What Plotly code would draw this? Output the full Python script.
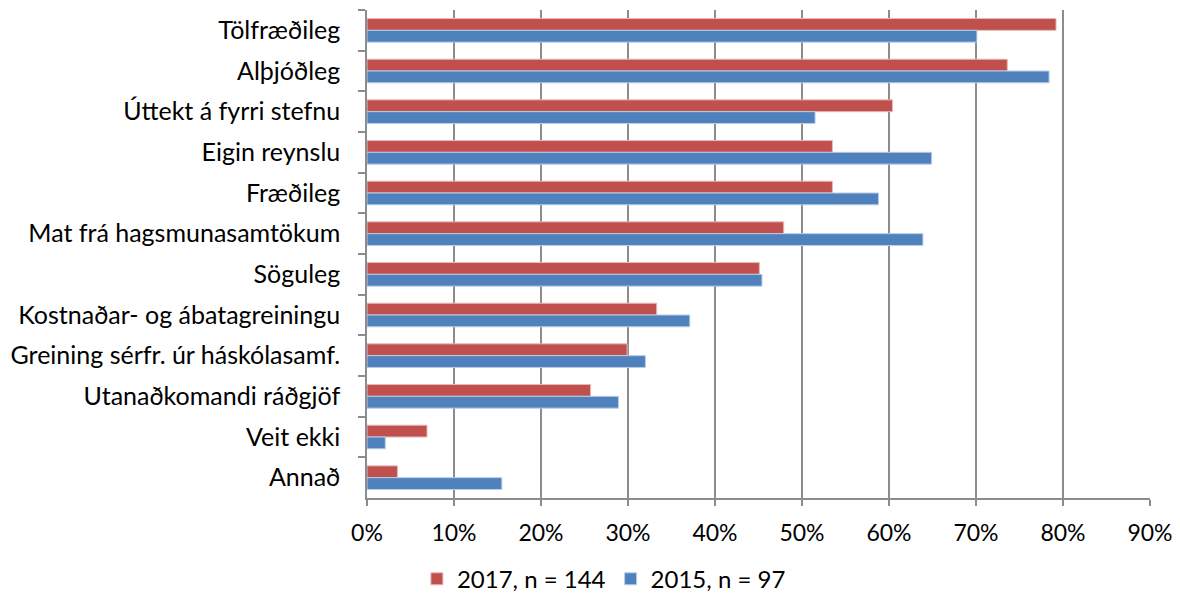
import plotly.graph_objects as go

categories = ["Tölfræðileg", "Alþjóðleg", "Úttekt á fyrri stefnu", "Eigin reynslu",
              "Fræðileg", "Mat frá hagsmunasamtökum", "Söguleg",
              "Kostnaðar- og ábatagreiningu", "Greining sérfr. úr háskólasamf.",
              "Utanaðkomandi ráðgjöf", "Veit ekki", "Annað"]
values_2017 = [0.792, 0.736, 0.604, 0.535, 0.535, 0.479, 0.451, 0.333, 0.299, 0.257, 0.069, 0.035]
values_2015 = [0.701, 0.784, 0.515, 0.649, 0.588, 0.639, 0.454, 0.371, 0.320, 0.289, 0.021, 0.155]
xtick_vals = [0, 0.1, 0.2, 0.3, 0.4, 0.5, 0.6, 0.7, 0.8, 0.9]
xtick_text = ["0%", "10%", "20%", "30%", "40%", "50%", "60%", "70%", "80%", "90%"]

FONT = "Lato"

fig = go.Figure()
fig.add_trace(go.Bar(y=categories, x=values_2017, orientation="h", name="2017, n = 144",
                     marker=dict(color="#C0504D", line=dict(color="#E6B9B8", width=1))))
fig.add_trace(go.Bar(y=categories, x=values_2015, orientation="h", name="2015, n = 97",
                     marker=dict(color="#4F81BD", line=dict(color="#B9CDE5", width=1))))

fig.update_layout(
    width=1180, height=595,
    margin=dict(l=359, r=38, t=2, b=105, autoexpand=False),
    paper_bgcolor="white", plot_bgcolor="white",
    barmode="group", bargap=0.42, bargroupgap=0,
    font=dict(family=FONT, size=22, color="black"),
    legend=dict(orientation="h", xref="container", yref="container",
                x=0.505, xanchor="center", y=0.04, yanchor="middle",
                font=dict(size=24, family=FONT), traceorder="normal"),
    showlegend=True,
)
fig.update_xaxes(range=[0, 0.9], tickvals=xtick_vals, ticktext=xtick_text,
                 showgrid=True, gridcolor="#8C8C8C", gridwidth=1.5,
                 showline=True, linecolor="#8C8C8C", linewidth=1.5,
                 ticks="outside", ticklen=6, tickcolor="#8C8C8C", tickwidth=1.5,
                 ticklabelstandoff=8,
                 tickfont=dict(size=23, family=FONT), zeroline=False, automargin=False)
fig.update_yaxes(autorange="reversed", showline=True, linecolor="#8C8C8C", linewidth=1.5,
                 ticks="outside", ticklen=7, tickcolor="#8C8C8C", tickwidth=1.5,
                 tickson="boundaries", showgrid=False, ticklabelstandoff=20,
                 tickfont=dict(size=25, family=FONT), automargin=False)

fig.write_html("out.html")
